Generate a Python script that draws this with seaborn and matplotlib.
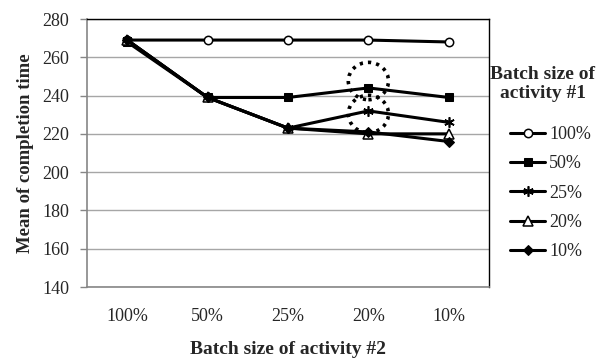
import numpy as np
import pandas as pd
import matplotlib
matplotlib.use("Agg")
import matplotlib.pyplot as plt
import seaborn as sns
from matplotlib.patches import Ellipse

# batch size of activity #2 (x axis) and activity #1 (series)
batch2 = ["100%", "50%", "25%", "20%", "10%"]
series = ["100%", "50%", "25%", "20%", "10%"]
mean_100 = [269, 269, 269, 269, 268]
mean_50 = [268, 239, 239, 244, 239]
mean_25 = [269, 239, 223, 232, 226]
mean_20 = [269, 239, 223, 220, 220]
mean_10 = [269, 239, 223, 221, 216]
values = [mean_100, mean_50, mean_25, mean_20, mean_10]

# highlighted spots (dotted rings) around the 20% column
rings = [("20%", 247.6), ("20%", 230.4)]

sns.set_theme(style="white")
plt.rcParams["font.family"] = ["Liberation Serif", "DejaVu Serif"]

df = pd.concat([pd.DataFrame({"batch2": batch2, "mean": v, "batch1": s})
                for s, v in zip(series, values)], ignore_index=True)

markers = {"100%": dict(marker="o", ms=6, mfc="white", mec="black", mew=1.1),
           "50%": dict(marker="s", ms=5.8, mfc="black", mec="black"),
           "25%": dict(marker=(6, 2, 0), ms=7.5, mec="black", mew=1.2),
           "20%": dict(marker="^", ms=6.5, mfc="white", mec="black", mew=1.1),
           "10%": dict(marker="D", ms=5, mfc="black", mec="black")}

fig = plt.figure(figsize=(6.06, 3.63), dpi=100)
ax = fig.add_axes([87 / 606, 1 - 287 / 363, (489 - 87) / 606, (287 - 19) / 363])

for s in series:
    sns.lineplot(data=df[df.batch1 == s], x="batch2", y="mean", color="black",
                 lw=2.2, ax=ax, label=s, **markers[s])

xpos = {b: i for i, b in enumerate(batch2)}
for b, yv in rings:
    ax.add_patch(Ellipse((xpos[b], yv), 0.5, 19.5, fill=False, ec="black",
                         lw=2.6, ls=(0, (0.9, 1.4)), zorder=5))

ax.set_xlim(-0.5, 4.5)
ax.set_ylim(140, 280)
ax.set_yticks(np.arange(140, 281, 20))
ax.yaxis.grid(True, color="#a6a6a6", lw=1)
ax.set_axisbelow(True)
for side in ["left", "bottom"]:
    ax.spines[side].set_color("#868686")
    ax.spines[side].set_linewidth(1.2)
for side in ["top", "right"]:
    ax.spines[side].set_color("black")
    ax.spines[side].set_linewidth(1.0)
ax.tick_params(axis="y", left=True, length=5, width=1, color="#868686",
               labelsize=13, pad=8)
ax.tick_params(axis="x", bottom=False, labelsize=13, pad=9)
ax.set_xlabel("Batch size of activity #2", fontsize=14, fontweight="bold",
              labelpad=12)
ax.set_ylabel("Mean of completion time", fontsize=13.5, fontweight="bold",
              labelpad=6)

fig.text(543 / 606, 1 - 84 / 363, "Batch size of\nactivity #1", ha="center",
         va="center", fontsize=14, fontweight="bold", linespacing=1.18)
h, l = ax.get_legend_handles_labels()
ax.legend(h, l, loc="upper left", bbox_to_anchor=(510 / 606, 1 - 126 / 363),
          bbox_transform=fig.transFigure, frameon=False, borderpad=0,
          borderaxespad=0, handlelength=1.95, handletextpad=0.22,
          labelspacing=0.68, fontsize=13)

fig.savefig("out.png", dpi=100)
